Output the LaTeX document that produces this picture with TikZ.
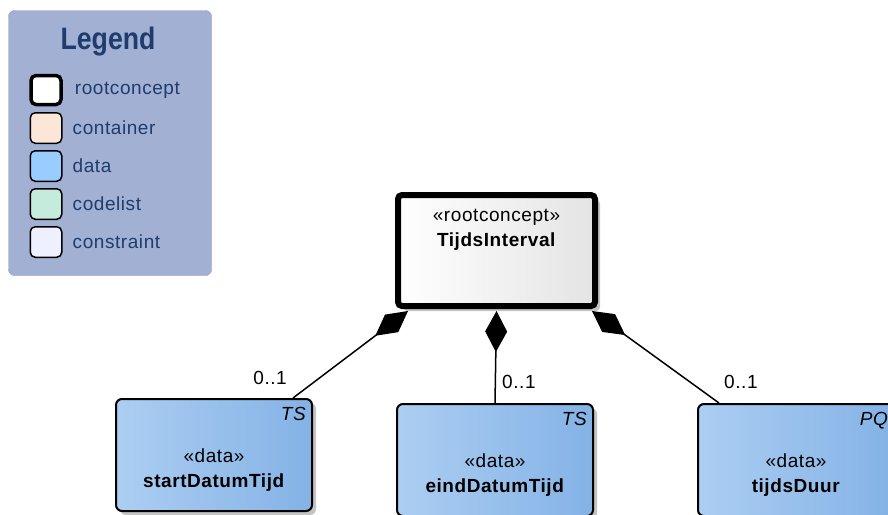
\documentclass[tikz,border=0pt]{standalone}
\usepackage{fontspec}
\setmainfont{Liberation Sans}[LetterSpace=3]
\newfontfamily\titlefont{Liberation Sans}[FakeStretch=0.86]
\usetikzlibrary{positioning,shadows,arrows.meta}
\definecolor{legendfill}{HTML}{A2B0D4}
\definecolor{legendline}{HTML}{8D9CC6}
\definecolor{legendtext}{HTML}{1E3C6C}
\definecolor{contfill}{HTML}{FCE6D7}
\definecolor{datafill}{HTML}{99CCFF}
\definecolor{codefill}{HTML}{C5EBDD}
\definecolor{consfill}{HTML}{EEEFFF}
\definecolor{datal}{HTML}{ACCEF2}
\definecolor{datar}{HTML}{84B2E6}
\definecolor{rootr}{HTML}{E4E4E4}
\definecolor{shadowgrey}{HTML}{C4C4C4}
\begin{document}
\begin{tikzpicture}[x=1pt,y=-1pt,font=\fontsize{19}{25}\selectfont]
\useasboundingbox (0,0) rectangle (888,514);
\tikzstyle{swatch} = [rectangle, rounded corners=5pt, draw=black, line width=1.5pt, minimum width=31.5pt, minimum height=30.5pt]
\tikzstyle{legtext} = [text=legendtext, inner sep=1pt]
\tikzstyle{databox} = [rectangle, rounded corners=6pt, draw=black, line width=2pt, left color=datal, right color=datar, minimum width=196pt, minimum height=112pt, drop shadow={shadow xshift=4pt, shadow yshift=-4pt, fill=shadowgrey, opacity=1}]
\tikzstyle{typetag} = [anchor=north east, inner sep=1pt, font=\fontsize{19}{25}\selectfont\itshape]
\tikzstyle{mult} = [inner sep=0pt]
\node (legend) [rectangle, rounded corners=6pt, draw=legendline, fill=legendfill, minimum width=203pt, minimum height=265pt] at (110,143) {};
\node (title) [text=legendtext, font=\titlefont\fontsize{31}{31}\selectfont\bfseries] at (108,42) {Legend};
\node (swroot) [swatch, line width=3.5pt, minimum width=30pt, minimum height=29pt, fill=white] at (46,90) {};
\node (swcont) [swatch, fill=contfill, below of=swroot, node distance=38pt] {};
\node (swdata) [swatch, fill=datafill, below of=swcont, node distance=38pt] {};
\node (swcode) [swatch, fill=codefill, below of=swdata, node distance=38pt] {};
\node (swcons) [swatch, fill=consfill, below of=swcode, node distance=38pt] {};
\node (lroot) [legtext, right=11pt of swroot] {rootconcept};
\node (lcont) [legtext, right=9pt of swcont] {container};
\node (ldata) [legtext, right=9pt of swdata] {data};
\node (lcode) [legtext, right=9pt of swcode] {codelist};
\node (lcons) [legtext, right=9pt of swcons] {constraint};
\node (root) [rectangle, rounded corners=4pt, draw=black, line width=6pt, left color=white, right color=rootr, minimum width=197pt, minimum height=111pt, drop shadow={shadow xshift=5pt, shadow yshift=-5pt, fill=shadowgrey, opacity=1}] at (496.5,250.5) {};
\node (rootlbl) [below=17pt of root.north, align=center, inner sep=0pt] {«rootconcept»\\\textbf{TijdsInterval}};
\node (sdt) [databox] at (214,455) {};
\node (eind) [databox] at (495,460) {};
\node (duur) [databox] at (796,460) {};
\node (sdtlbl) [below=51pt of sdt.north, align=center, inner sep=0pt] {«data»\\\textbf{startDatumTijd}};
\node (eindlbl) [below=51pt of eind.north, align=center, inner sep=0pt] {«data»\\\textbf{eindDatumTijd}};
\node (duurlbl) [below=51pt of duur.north, align=center, inner sep=0pt] {«data»\\\textbf{tijdsDuur}};
\node (sdttag) [typetag] at ([xshift=-6pt,yshift=-8pt]sdt.north east) {TS};
\node (eindtag) [typetag] at ([xshift=-6pt,yshift=-8pt]eind.north east) {TS};
\node (duurtag) [typetag] at ([xshift=-6pt,yshift=-8pt]duur.north east) {PQ};
\tikzstyle{compo} = [line width=1.5pt, {Diamond[length=41pt,width=22pt]}-]
\draw [compo] ([xshift=13pt,yshift=-2pt]root.south west) -- ([xshift=-20pt]sdt.north east);
\draw [compo] ([yshift=-2pt]root.south) -- (eind.north);
\draw [compo] ([xshift=-6pt,yshift=-2pt]root.south east) -- ([xshift=22pt]duur.north west);
\node (mstart) [mult, anchor=south east] at ([xshift=-26pt,yshift=13pt]sdt.north east) {0..1};
\node (meind) [mult, anchor=south west] at ([xshift=7pt,yshift=14pt]eind.north) {0..1};
\node (mduur) [mult, anchor=south west] at ([xshift=27pt,yshift=14pt]duur.north west) {0..1};
\end{tikzpicture}
\end{document}
